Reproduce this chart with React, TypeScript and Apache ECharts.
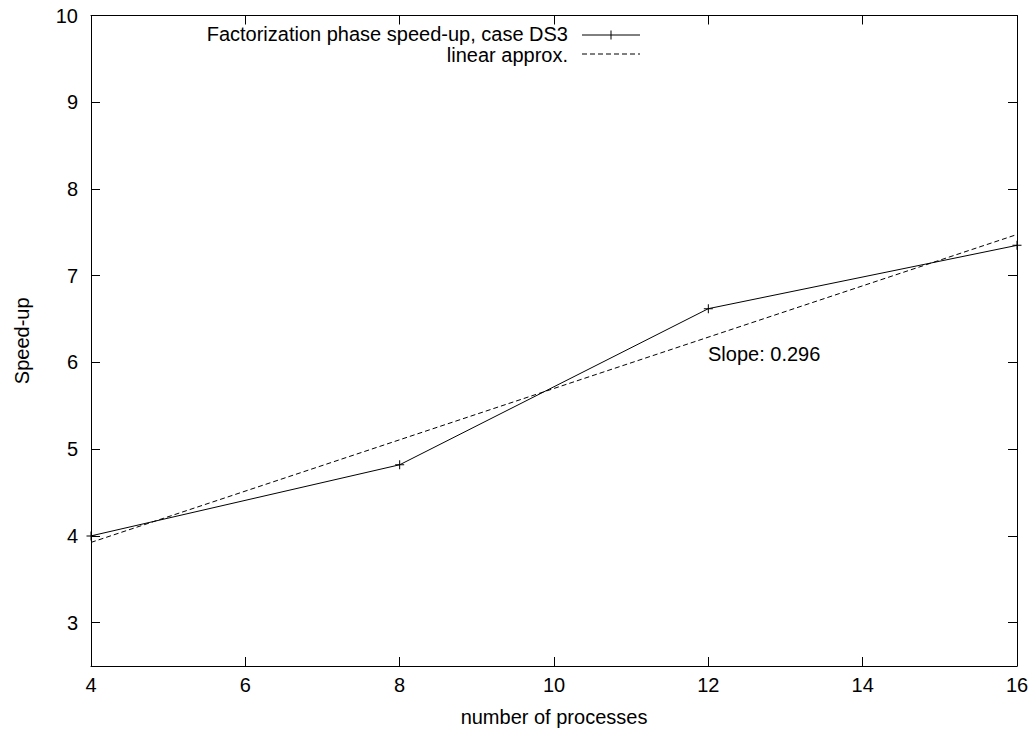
import React, { useEffect, useRef } from "react";
import * as echarts from "echarts";

const FONT = "'Liberation Sans', Arial, Helvetica, sans-serif";

const seriesName = "Factorization phase speed-up, case DS3";
const fitName = "linear approx.";
const procs = [4, 8, 12, 16];
const speedup = [4.0, 4.82, 6.62, 7.35];
const fitX = [4, 16];
const fitY = [3.925, 7.475];
const xTicks = [4, 6, 8, 10, 12, 14, 16];
const yTicks = [3, 4, 5, 6, 7, 8, 9, 10];
const slopeLabel = "Slope: 0.296";

const PLUS = "path://M4,0H5V4H9V5H5V9H4V5H0V4H4Z";

export default function App() {
  const ref = useRef<HTMLDivElement>(null);
  useEffect(() => {
    if (!ref.current) return;
    const chart = echarts.init(ref.current, undefined, { renderer: "svg" });
    const axisCommon = {
      type: "value" as const,
      axisLine: { show: true, lineStyle: { color: "#000", width: 1 } },
      splitLine: { show: false },
    };
    const legendTextRight = 568;
    const legendLineX1 = 582;
    const legendLineX2 = 640;
    const row1 = 35;
    const row2 = 54;
    chart.setOption({
      animation: false,
      backgroundColor: "#fff",
      textStyle: { fontFamily: FONT, color: "#000" },
      grid: { left: 91, right: 17, top: 15.5, bottom: 67, containLabel: false },
      xAxis: [
        {
          ...axisCommon,
          position: "bottom",
          min: 4,
          max: 16,
          name: "number of processes",
          nameLocation: "middle",
          nameGap: 41,
          nameTextStyle: { fontSize: 20, color: "#000", fontFamily: FONT },
          axisTick: { show: true, inside: true, length: 9, customValues: xTicks, lineStyle: { color: "#000" } },
          axisLabel: { show: true, customValues: xTicks, fontSize: 20, color: "#000", margin: 9, fontFamily: FONT },
        },
        {
          ...axisCommon,
          position: "top",
          min: 4,
          max: 16,
          axisTick: { show: true, inside: true, length: 9, customValues: xTicks, lineStyle: { color: "#000" } },
          axisLabel: { show: false },
        },
      ],
      yAxis: [
        {
          ...axisCommon,
          position: "left",
          min: 2.5,
          max: 10,
          name: "Speed-up",
          nameLocation: "middle",
          nameRotate: 90,
          nameGap: 59,
          nameTextStyle: { fontSize: 20, color: "#000", fontFamily: FONT },
          axisTick: { show: true, inside: true, length: 9, customValues: yTicks, lineStyle: { color: "#000" } },
          axisLabel: { show: true, customValues: yTicks, fontSize: 20, color: "#000", margin: 13, fontFamily: FONT },
        },
        {
          ...axisCommon,
          position: "right",
          min: 2.5,
          max: 10,
          axisTick: { show: true, inside: true, length: 9, customValues: yTicks, lineStyle: { color: "#000" } },
          axisLabel: { show: false },
        },
      ],
      series: [
        {
          name: seriesName,
          type: "line",
          xAxisIndex: 0,
          yAxisIndex: 0,
          data: procs.map((x, i) => [x, speedup[i]]),
          symbol: PLUS,
          symbolSize: 9,
          showSymbol: true,
          clip: false,
          itemStyle: { color: "#000" },
          lineStyle: { color: "#000", width: 1 },
        },
        {
          name: fitName,
          type: "line",
          xAxisIndex: 0,
          yAxisIndex: 0,
          data: fitX.map((x, i) => [x, fitY[i]]),
          symbol: "none",
          itemStyle: { color: "#000" },
          lineStyle: { color: "#000", width: 1, type: [5, 3] },
        },
      ],
      graphic: [
        {
          type: "text",
          left: 708,
          top: 344,
          style: { text: slopeLabel, fontSize: 20, fontFamily: FONT, fill: "#000" },
        },
        {
          type: "text",
          x: legendTextRight,
          y: row1 - 0.8,
          style: {
            text: seriesName,
            fontSize: 20,
            lineHeight: 18,
            fontFamily: FONT,
            fill: "#000",
            align: "right",
            verticalAlign: "middle",
          },
        },
        {
          type: "line",
          shape: { x1: legendLineX1, y1: row1, x2: legendLineX2, y2: row1 },
          style: { stroke: "#000", lineWidth: 1 },
        },
        {
          type: "line",
          shape: { x1: (legendLineX1 + legendLineX2) / 2, y1: row1 - 4.5, x2: (legendLineX1 + legendLineX2) / 2, y2: row1 + 4.5 },
          style: { stroke: "#000", lineWidth: 1 },
        },
        {
          type: "text",
          x: legendTextRight,
          y: row2 + 0.8,
          style: {
            text: fitName,
            fontSize: 20,
            lineHeight: 18,
            fontFamily: FONT,
            fill: "#000",
            align: "right",
            verticalAlign: "middle",
          },
        },
        {
          type: "line",
          shape: { x1: legendLineX1, y1: row2, x2: legendLineX2, y2: row2 },
          style: { stroke: "#000", lineWidth: 1, lineDash: [5, 3] },
        },
      ],
    });
    return () => chart.dispose();
  }, []);
  return (
    <div
      ref={ref}
      style={{ position: "fixed", left: 0, top: 0, width: 1034, height: 733, background: "#fff" }}
    />
  );
}
